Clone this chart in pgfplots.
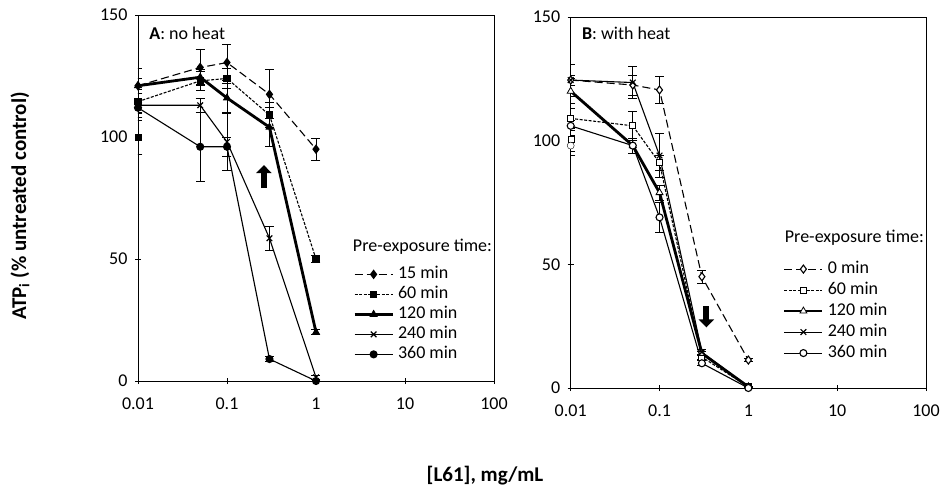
\documentclass[border=0pt]{standalone}
\usepackage{fontspec}
\setmainfont{Carlito}
\usepackage{pgfplots}
\usepackage{pgfplotstable}
\pgfplotsset{compat=1.18}
\usetikzlibrary{arrows.meta}

% panel A: no heat
\pgfplotstableread{
x y e
0.01 121 7
0.05 128.5 7.5
0.1 130.5 7.5
0.3 117.5 10
1 95 4.5
}\Afifteen
\pgfplotstableread{
x y e
0.01 114.5 5
0.05 123 4
0.1 124 4
0.3 109 5
1 50 1.5
}\Asixty
\pgfplotstableread{
x y e
0.01 121 3
0.05 124.5 3
0.1 116 6
0.3 104 8
1 20 1
}\Aonetwenty
\pgfplotstableread{
x y e
0.01 113 3
0.05 113 3
0.1 98 11.5
0.3 58.5 5
1 1.5 1
}\Atwoforty
\pgfplotstableread{
x y e
0.01 112 4
0.05 96 14
0.1 96 4
0.3 9 1
1 0 0.5
}\Athreesixty

% panel B: with heat
\pgfplotstableread{
x y e
0.01 124.5 6.5
0.05 122.5 4
0.1 120.5 5.5
0.3 45 2.7
1 11.3 0.5
}\Bzero
\pgfplotstableread{
x y e
0.01 109 4
0.05 106 6
0.1 91 3
0.3 12.5 1
1 0.5 0.3
}\Bsixty
\pgfplotstableread{
x y e
0.01 120 5
0.05 98 3
0.1 79 3
0.3 14 1
1 0.5 0.3
}\Bonetwenty
\pgfplotstableread{
x y e
0.01 124.5 2
0.05 123.5 6.5
0.1 94 9
0.3 14.5 1
1 0.5 0.3
}\Btwoforty
\pgfplotstableread{
x y e
0.01 106 2
0.05 98 3
0.1 69 6
0.3 10 1
1 0 0.3
}\Bthreesixty

\pgfplotsset{
  eb/.style={/pgfplots/error bars/y dir=both, /pgfplots/error bars/y explicit,
    /pgfplots/error bars/error bar style={solid, line width=0.8pt, black},
    /pgfplots/error bars/error mark options={rotate=90, mark size=4.5pt, solid, line width=0.8pt, black}},
  s15/.style={black, line width=1.1pt, dash pattern=on 8pt off 4pt, mark=diamond*, mark size=4pt, mark options={solid}},
  s60/.style={black, line width=1.1pt, dash pattern=on 3pt off 1.5pt, mark=square*, mark size=3pt, mark options={solid}},
  s120/.style={black, line width=2.8pt, mark=triangle*, mark size=4pt, mark options={solid, line width=0.8pt}},
  s240/.style={black, line width=1.1pt, mark=x, mark size=4pt, mark options={solid}},
  s360/.style={black, line width=1.1pt, mark=*, mark size=3.5pt, mark options={solid}},
}

\begin{document}
\begin{tikzpicture}
\useasboundingbox (0pt,0pt) rectangle (943pt,491pt);

\begin{axis}[at={(138pt,110pt)}, anchor=south west, width=356pt, height=366pt,
    scale only axis,
    xmode=log, xmin=0.01, xmax=100, ymin=0, ymax=150,
    xtick={0.01,0.1,1,10,100}, xticklabels={0.01,0.1,1,10,100},
    ytick={0,50,100,150},
    xminorticks=false,
    xtick pos=bottom, ytick pos=left,
    tick align=center, major tick length=6pt,
    tick style={black, line width=0.8pt},
    axis line style={line width=0.8pt},
    ticklabel style={font=\fontsize{18}{21}\selectfont},
    xticklabel style={yshift=-10pt},
    yticklabel style={/pgf/number format/assume math mode=true, xshift=-4pt},
    legend cell align=left,
    legend style={draw=none, fill=none, inner sep=0pt, row sep=6pt, column sep=4pt,
      font=\fontsize{18}{21}\selectfont,
      nodes={inner sep=0pt, text height=11pt, text depth=3pt},
      at={(0.604,0.311)}, anchor=north west},
    legend image code/.code={\draw[mark repeat=2,mark phase=2,#1] plot coordinates {(0pt,0pt) (19pt,0pt) (38pt,0pt)};}]
  \addplot[s15, eb] table[x=x, y=y, y error=e] {\Afifteen};
  \addlegendentry{15 min}
  \addplot[s60, eb] table[x=x, y=y, y error=e] {\Asixty};
  \addlegendentry{60 min}
  \addplot[s120, eb] table[x=x, y=y, y error=e] {\Aonetwenty};
  \addlegendentry{120 min}
  \addplot[s240, eb] table[x=x, y=y, y error=e] {\Atwoforty};
  \addlegendentry{240 min}
  \addplot[s360, eb] table[x=x, y=y, y error=e] {\Athreesixty};
  \addlegendentry{360 min}
  \addplot[forget plot, only marks, mark=square*, mark size=3pt, black, eb] coordinates {(0.01,100) +- (0,7)};
  \node[anchor=west, font=\fontsize{18}{21}\selectfont] at (rel axis cs:0.594,0.366) {Pre-exposure time:};
  \node[anchor=west, font=\fontsize{18}{21}\selectfont] at (rel axis cs:0.022,0.951) {\textbf{A}: no heat};
  \draw[-{Triangle[width=15pt,length=8pt]}, line width=6pt] (axis cs:0.26,79) -- (axis cs:0.26,88.5);
\end{axis}

\begin{axis}[at={(570.7pt,103pt)}, anchor=south west, width=355.3pt, height=371pt,
    scale only axis,
    xmode=log, xmin=0.01, xmax=100, ymin=0, ymax=150,
    xtick={0.01,0.1,1,10,100}, xticklabels={0.01,0.1,1,10,100},
    ytick={0,50,100,150},
    xminorticks=false,
    xtick pos=bottom, ytick pos=left,
    tick align=center, major tick length=6pt,
    tick style={black, line width=0.8pt},
    axis line style={line width=0.8pt},
    ticklabel style={font=\fontsize{18}{21}\selectfont},
    xticklabel style={yshift=-10pt},
    yticklabel style={/pgf/number format/assume math mode=true, xshift=-4pt},
    legend cell align=left,
    legend style={draw=none, fill=none, inner sep=0pt, row sep=7pt, column sep=4pt,
      font=\fontsize{18}{21}\selectfont,
      nodes={inner sep=0pt, text height=11pt, text depth=3pt},
      at={(0.597,0.34)}, anchor=north west},
    legend image code/.code={\draw[mark repeat=2,mark phase=2,#1] plot coordinates {(0pt,0pt) (19pt,0pt) (38pt,0pt)};}]
  \addplot[s15, mark options={solid, fill=white}, eb] table[x=x, y=y, y error=e] {\Bzero};
  \addlegendentry{0 min}
  \addplot[s60, mark options={solid, fill=white}, eb] table[x=x, y=y, y error=e] {\Bsixty};
  \addlegendentry{60 min}
  \addplot[s120, mark options={solid, fill=white, line width=0.8pt}, eb] table[x=x, y=y, y error=e] {\Bonetwenty};
  \addlegendentry{120 min}
  \addplot[s240, eb] table[x=x, y=y, y error=e] {\Btwoforty};
  \addlegendentry{240 min}
  \addplot[s360, mark options={solid, fill=white}, eb] table[x=x, y=y, y error=e] {\Bthreesixty};
  \addlegendentry{360 min}
  \addplot[forget plot, only marks, mark=square*, mark size=3pt, black, mark options={fill=white}, eb] coordinates {(0.01,100.5) +- (0,5)};
  \addplot[forget plot, only marks, mark=*, mark size=3.5pt, black, mark options={fill=white}, eb] coordinates {(0.01,98) +- (0,4)};
  \node[anchor=west, font=\fontsize{18}{21}\selectfont] at (rel axis cs:0.593,0.404) {Pre-exposure time:};
  \node[anchor=west, font=\fontsize{18}{21}\selectfont] at (rel axis cs:0.022,0.957) {\textbf{B}: with heat};
  \draw[-{Triangle[width=15pt,length=8pt]}, line width=6pt] (axis cs:0.337,33) -- (axis cs:0.337,24.5);
\end{axis}

\node[rotate=90, font=\bfseries\fontsize{21}{24}\selectfont] at (20pt,285pt) {ATP\textsubscript{i} (\% untreated control)};
\node[font=\bfseries\fontsize{21}{24}\selectfont] at (485pt,15pt) {[L61], mg/mL};
\end{tikzpicture}
\end{document}
